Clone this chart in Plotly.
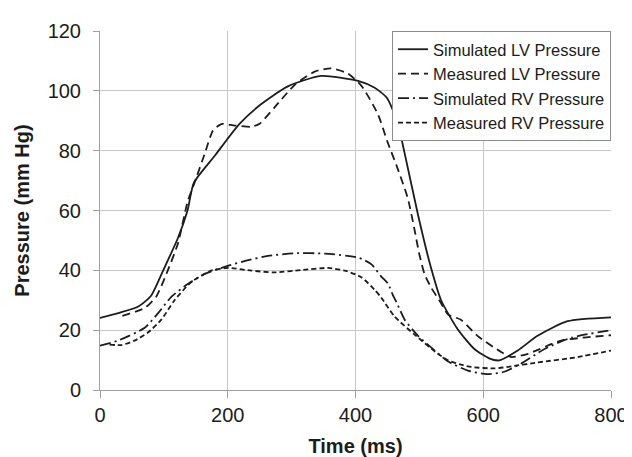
import plotly.graph_objects as go

# Simulated LV pressure
sim_lv_t = [0, 30, 60, 80, 100, 122, 137, 147, 180, 218, 252, 294, 346, 404, 430, 449, 465, 477, 498, 518, 534, 560, 586, 610, 625, 654, 685, 732, 800]
sim_lv_p = [24.1, 25.8, 27.9, 31.5, 40.5, 50.8, 60, 69.3, 78.4, 88.9, 95.5, 101.5, 105, 103.3, 101, 97.7, 90, 79.1, 58.4, 41, 30, 20.3, 13.7, 10.5, 9.9, 13.2, 18.1, 23, 24.3]

# Measured LV pressure
meas_lv_t = [35, 70, 88, 106, 122, 137, 148, 164, 177, 190, 211, 237, 250, 273, 305, 336, 362, 388, 410, 435, 450, 466, 482, 492, 500, 508, 518, 534, 545, 565, 591, 628, 644, 670, 722, 800]
meas_lv_p = [24.8, 27.4, 31.2, 39.9, 49, 62.8, 69.3, 79, 86.8, 88.9, 88.4, 88, 89, 94.4, 102, 106.4, 107.5, 105.8, 101.5, 92.2, 83, 74, 64, 54, 45.3, 38.8, 34.4, 29, 25.2, 23.5, 18.1, 12.7, 11, 12.1, 16.5, 18.3]

# Simulated RV pressure
sim_rv_t = [0, 28, 70, 91, 112, 138, 164, 200, 232, 263, 305, 352, 405, 425, 440, 451, 458, 466, 477, 498, 524, 545, 576, 605, 633, 659, 696, 738, 800]
sim_rv_p = [14.8, 16.5, 20.8, 25.7, 31.2, 35.5, 38.8, 41.5, 43.4, 44.8, 45.7, 45.6, 44.2, 42, 38, 35.5, 32, 28.5, 23.5, 18.1, 13.2, 9.5, 6.5, 5.3, 6.1, 8.8, 13.7, 17.5, 20]

# Measured RV pressure
meas_rv_t = [15, 33, 54, 75, 96, 117, 143, 174, 200, 237, 273, 315, 357, 385, 409, 430, 440, 461, 492, 529, 545, 565, 581, 618, 644, 685, 748, 800]
meas_rv_p = [15.2, 15, 16.5, 19.2, 23.5, 30.1, 36.1, 39.9, 40.8, 39.9, 39.3, 40.1, 40.8, 39.8, 37.7, 33.5, 31, 24.6, 18.6, 12.1, 9.9, 8.5, 7.7, 7.2, 7.9, 9.2, 11, 13.2]

series = [
    ("Simulated LV Pressure", sim_lv_t, sim_lv_p, "solid"),
    ("Measured LV Pressure", meas_lv_t, meas_lv_p, "8px,5px"),
    ("Simulated RV Pressure", sim_rv_t, sim_rv_p, "11px,4px,2px,4px"),
    ("Measured RV Pressure", meas_rv_t, meas_rv_p, "5px,3px"),
]

x_ticks = [0, 200, 400, 600, 800]
y_ticks = [0, 20, 40, 60, 80, 100, 120]

fig = go.Figure()
for name, t, p, dash in series:
    fig.add_trace(go.Scatter(
        x=t, y=p, name=name, mode="lines",
        line=dict(color="#1c1c1c", width=1.8, dash=dash, shape="spline", smoothing=0.6),
    ))

font_family = "Liberation Sans, Arial, sans-serif"
fig.update_layout(
    width=632, height=457,
    margin=dict(l=92, r=29, t=15, b=75),
    paper_bgcolor="white", plot_bgcolor="white",
    font=dict(family=font_family, color="#1c1c1c", size=20),
    showlegend=True,
    legend=dict(
        x=1.0, xanchor="right", y=1.0, yanchor="top",
        bgcolor="white", bordercolor="#8c8c8c", borderwidth=1,
        font=dict(size=16.5, family=font_family, color="#1c1c1c"),
        tracegroupgap=0,
    ),
    xaxis=dict(
        range=[0, 800], tickvals=x_ticks, ticktext=[str(v) for v in x_ticks],
        showgrid=True, gridcolor="#c8c8c8", gridwidth=1,
        showline=True, linecolor="#a0a0a0", linewidth=1,
        ticks="outside", ticklen=7, tickcolor="#a0a0a0",
        zeroline=False,
        tickfont=dict(size=20),
        title=dict(text="<b>Time (ms)</b>", font=dict(size=20), standoff=13),
    ),
    yaxis=dict(
        range=[0, 120], tickvals=y_ticks, ticktext=[str(v) for v in y_ticks],
        showgrid=True, gridcolor="#c8c8c8", gridwidth=1,
        showline=True, linecolor="#a0a0a0", linewidth=1,
        ticks="outside", ticklen=6, tickcolor="#a0a0a0",
        zeroline=False,
        tickfont=dict(size=20),
        ticklabelstandoff=8,
        title=dict(text="<b>Pressure (mm Hg)</b>", font=dict(size=20), standoff=12),
    ),
)

fig.write_html("out.html")
